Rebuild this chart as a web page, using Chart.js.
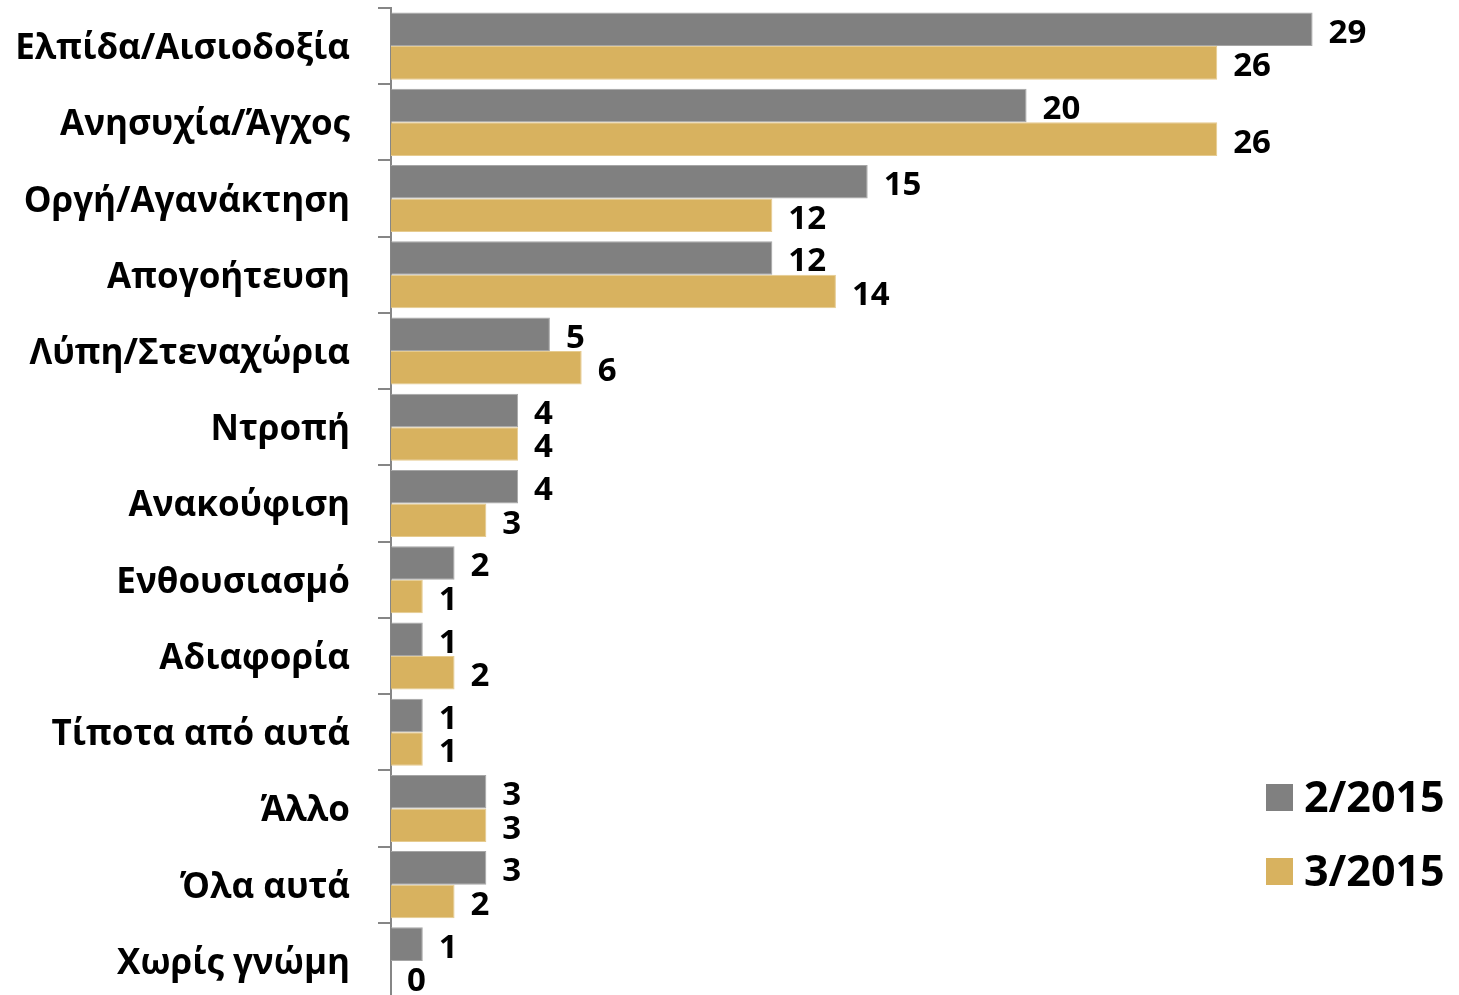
<!DOCTYPE html>
<html lang="el">
<head>
    <meta charset="UTF-8">
    <title>Συναισθήματα 2/2015 - 3/2015</title>
    <style>
        html, body { margin: 0; padding: 0; background: #fff; overflow: hidden; }
        #wrap { width: 1459px; height: 999px; position: relative; }
    </style>
</head>
<body>
    <div id="wrap"><canvas id="myChart"></canvas></div>

    <script src="https://cdn.jsdelivr.net/npm/chart.js"></script>
    <script>
        // Κατηγορίες και τιμές (%)
        const categories = [
            'Ελπίδα/Αισιοδοξία', 'Ανησυχία/Άγχος', 'Οργή/Αγανάκτηση', 'Απογοήτευση',
            'Λύπη/Στεναχώρια', 'Ντροπή', 'Ανακούφιση', 'Ενθουσιασμό', 'Αδιαφορία',
            'Τίποτα από αυτά', 'Άλλο', 'Όλα αυτά', 'Χωρίς γνώμη'
        ];
        const seriesNames = ['2/2015', '3/2015'];
        const feb2015 = [29, 20, 15, 12, 5, 4, 4, 2, 1, 1, 3, 3, 1];
        const mar2015 = [26, 26, 12, 14, 6, 4, 3, 1, 2, 1, 3, 2, 0];

        const FONT = "'Open Sans', 'Noto Sans', sans-serif";

        // Ετικέτες τιμών δίπλα στις μπάρες
        const valueLabels = {
            id: 'valueLabels',
            afterDatasetsDraw(chart) {
                const ctx = chart.ctx;
                ctx.save();
                ctx.fillStyle = '#000';
                ctx.font = 'bold 33px ' + FONT;
                ctx.textAlign = 'left';
                ctx.textBaseline = 'middle';
                chart.data.datasets.forEach((ds, i) => {
                    chart.getDatasetMeta(i).data.forEach((bar, j) => {
                        ctx.fillText(String(ds.data[j]), bar.x + 16, bar.y + 4);
                    });
                });
                ctx.restore();
            }
        };

        // Υπόμνημα κάτω δεξιά
        const cornerLegend = {
            id: 'cornerLegend',
            afterDraw(chart) {
                const ctx = chart.ctx;
                ctx.save();
                ctx.font = 'bold 43px ' + FONT;
                ctx.textBaseline = 'middle';
                ctx.textAlign = 'left';
                chart.data.datasets.forEach((ds, i) => {
                    const cy = 797 + i * 74;
                    ctx.fillStyle = ds.backgroundColor;
                    ctx.fillRect(1266, cy - 13, 27, 27);
                    ctx.fillStyle = '#000';
                    ctx.fillText(ds.label, 1304, cy + 3);
                });
                ctx.restore();
            }
        };

        const ctx = document.getElementById('myChart').getContext('2d');
        new Chart(ctx, {
            type: 'bar',
            data: {
                labels: categories,
                datasets: [
                    {
                        label: seriesNames[0],
                        data: feb2015,
                        backgroundColor: '#808080',
                        borderColor: '#a6a6a6',
                        borderWidth: 1
                    },
                    {
                        label: seriesNames[1],
                        data: mar2015,
                        backgroundColor: '#d8b25f',
                        borderColor: '#e6cb8f',
                        borderWidth: 1
                    }
                ]
            },
            options: {
                indexAxis: 'y',
                responsive: true,
                maintainAspectRatio: false,
                animation: false,
                categoryPercentage: 0.88,
                barPercentage: 1,
                layout: { padding: { top: 8, right: 5, bottom: 0, left: 0 } },
                plugins: {
                    legend: { display: false },
                    tooltip: { enabled: false }
                },
                scales: {
                    x: {
                        display: false,
                        min: 0,
                        max: 33.45
                    },
                    y: {
                        afterFit(scale) {
                            scale.width = 391;
                            scale.paddingTop = 0;
                            scale.paddingBottom = 0;
                        },
                        border: { display: true, color: '#868686', width: 2 },
                        grid: {
                            drawOnChartArea: false,
                            tickLength: 13,
                            color: '#868686',
                            lineWidth: 2
                        },
                        ticks: {
                            padding: 28,
                            labelOffset: 3,
                            color: '#000',
                            font: { family: FONT, size: 35, weight: 'bold' }
                        }
                    }
                }
            },
            plugins: [valueLabels, cornerLegend]
        });
    </script>
</body>
</html>
